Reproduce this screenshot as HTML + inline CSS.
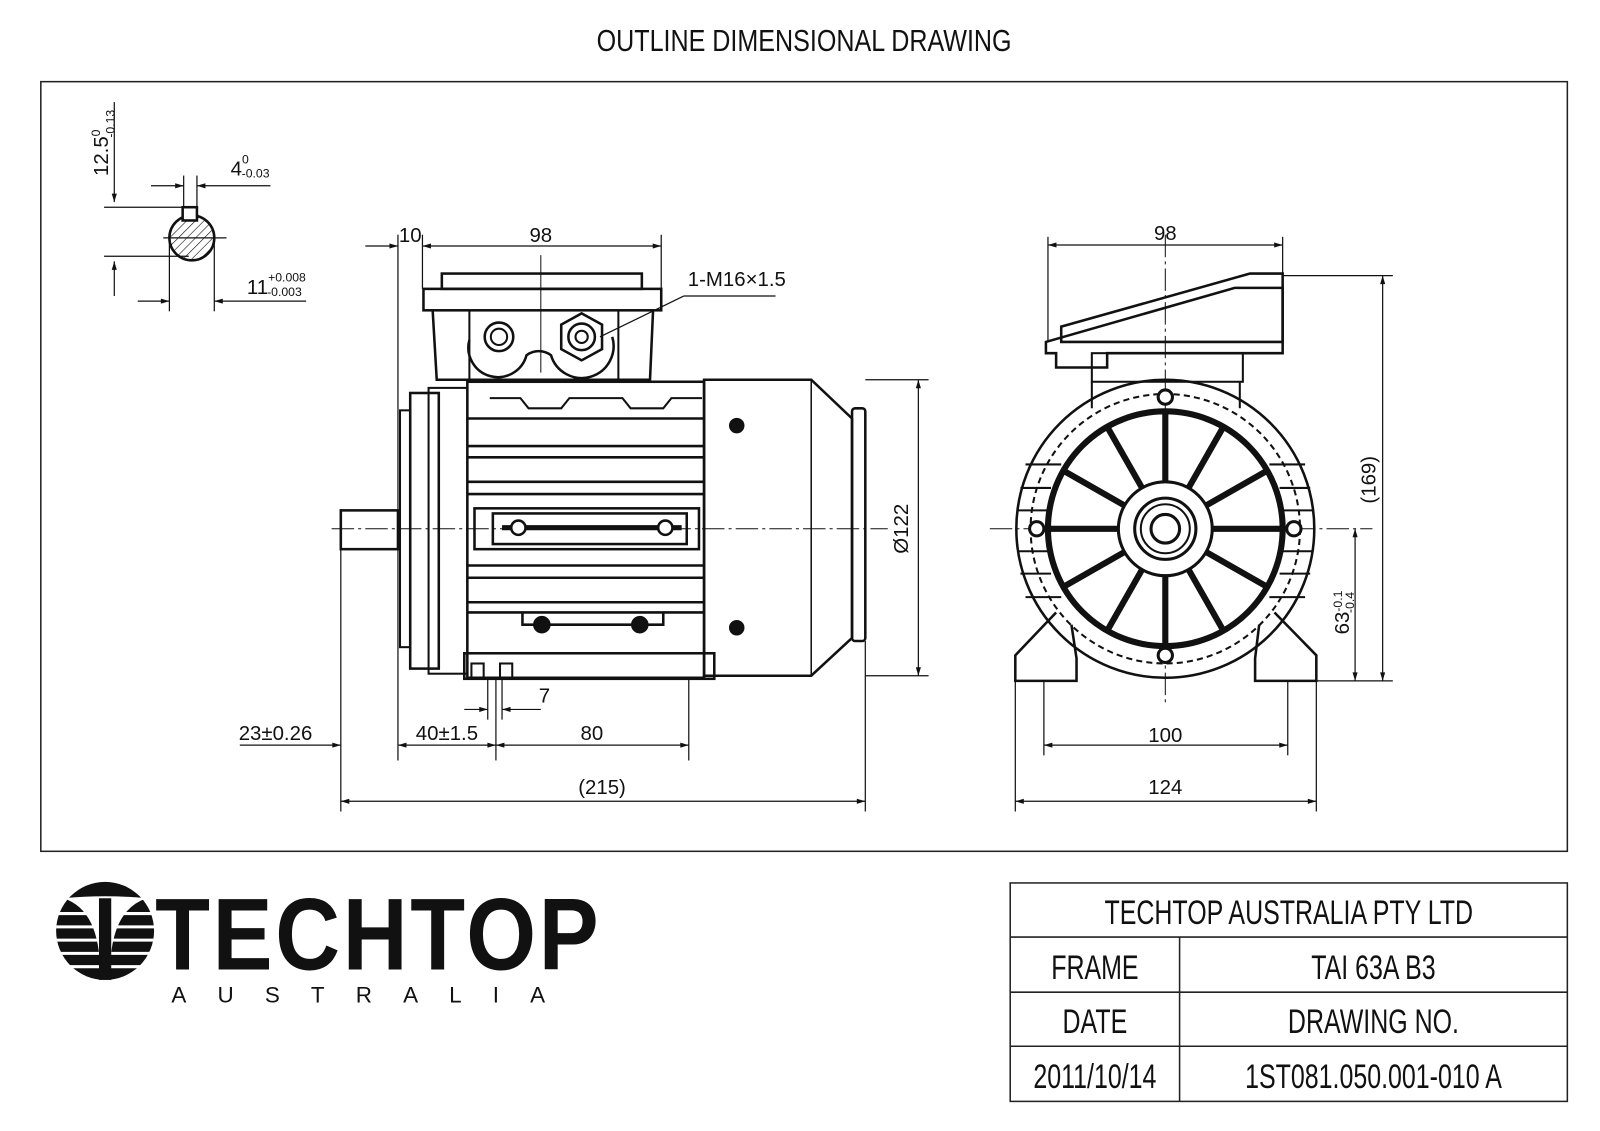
<!DOCTYPE html>
<html><head><meta charset="utf-8"><style>
html,body{margin:0;padding:0;background:#fff;}
svg{display:block;}
text{font-family:"Liberation Sans Narrow","Liberation Sans",sans-serif;fill:#111;}
</style></head><body>
<svg width="1600" height="1131" viewBox="0 0 1568 1108" preserveAspectRatio="none" xmlns="http://www.w3.org/2000/svg">
<defs>
<marker id="a" viewBox="0 0 10 6" refX="10" refY="3" markerWidth="14" markerHeight="5" orient="auto-start-reverse" markerUnits="userSpaceOnUse"><path d="M0,0 L10,3 L0,6z" fill="#111"/></marker>
<pattern id="h" width="6" height="6" patternUnits="userSpaceOnUse" patternTransform="rotate(45)"><line x1="0" y1="0" x2="0" y2="6" stroke="#111" stroke-width="1.2"/></pattern>
</defs>
<rect width="1568" height="1108" fill="#fff"/>
<text x="788" y="50" font-size="30" text-anchor="middle" transform="translate(788 0) scale(0.82 1) translate(-788 0)">OUTLINE DIMENSIONAL DRAWING</text>
<rect x="40" y="80" width="1496" height="754" fill="none" stroke="#222" stroke-width="1.5"/>

<g stroke="#111" fill="none" stroke-width="1.2">
<!-- keyway detail -->
<circle cx="188" cy="233" r="22" fill="url(#h)" stroke-width="2.5"/>
<rect x="179" y="203" width="14" height="13" fill="#fff" stroke-width="2.5"/>
<line x1="102" y1="203" x2="182" y2="203"/><line x1="102" y1="251" x2="185" y2="251"/>
<line x1="112" y1="100" x2="112" y2="198" marker-end="url(#a)"/><line x1="112" y1="256" x2="112" y2="290" marker-start="url(#a)"/>
<line x1="180" y1="172" x2="180" y2="203"/><line x1="193" y1="172" x2="193" y2="203"/>
<line x1="148" y1="182" x2="180" y2="182" marker-end="url(#a)"/><line x1="193" y1="182" x2="265" y2="182" marker-start="url(#a)"/>
<line x1="166" y1="233" x2="166" y2="305"/><line x1="210" y1="233" x2="210" y2="305"/>
<line x1="135" y1="295" x2="166" y2="295" marker-end="url(#a)"/><line x1="210" y1="295" x2="300" y2="295" marker-start="url(#a)"/>
<line x1="160" y1="233" x2="222" y2="233"/>

<!-- LEFT VIEW -->
<line x1="325" y1="518" x2="870" y2="518" stroke-dasharray="22,4,3,4" stroke-width="1"/>
<rect x="334" y="500" width="56" height="38" stroke-width="2.5"/>
<rect x="392" y="402" width="10" height="232" stroke-width="2"/>
<rect x="402" y="385" width="28" height="270" stroke-width="2.5"/>
<rect x="420" y="380" width="38" height="280" stroke-width="2"/>
<rect x="458" y="374" width="232" height="290" stroke-width="2.5"/>
<g stroke-width="2.5">
<line x1="458" y1="410" x2="690" y2="410"/><line x1="458" y1="437" x2="690" y2="437"/>
<line x1="458" y1="448" x2="690" y2="448"/><line x1="458" y1="472" x2="690" y2="472"/>
<line x1="458" y1="484" x2="690" y2="484"/><line x1="458" y1="554" x2="690" y2="554"/>
<line x1="458" y1="566" x2="690" y2="566"/><line x1="458" y1="590" x2="690" y2="590"/>
<line x1="458" y1="600" x2="690" y2="600"/>
</g>
<path d="M480 390 H510 L518 400 H550 L558 390 H610 L618 400 H650 L658 390 H688" stroke-width="2"/>
<rect x="465" y="498" width="220" height="40" stroke-width="2.5"/>
<rect x="483" y="503" width="190" height="30" stroke-width="2.5"/>
<line x1="492" y1="517" x2="668" y2="517" stroke-width="5"/>
<circle cx="508" cy="517" r="7" stroke-width="2.5" fill="#fff"/><circle cx="652" cy="517" r="7" stroke-width="2.5" fill="#fff"/>
<path d="M512 600 V612 H650 V600" stroke-width="2.5"/>
<circle cx="531" cy="612" r="8" fill="#111"/><circle cx="627" cy="612" r="8" fill="#111"/>
<rect x="455" y="640" width="245" height="25" stroke-width="2.5"/>
<rect x="462" y="650" width="12" height="15" stroke-width="2"/><rect x="490" y="650" width="12" height="15" stroke-width="2"/>
<path d="M690 372 H795 L835 410 V625 L795 662 H690Z" stroke-width="2.5"/>
<line x1="795" y1="372" x2="795" y2="662" stroke-width="1.5"/>
<rect x="835" y="400" width="13" height="228" rx="3" stroke-width="2.5"/>
<circle cx="722" cy="417" r="7" fill="#111"/><circle cx="722" cy="615" r="7" fill="#111"/>
<!-- terminal box -->
<rect x="433" y="268" width="196" height="15" stroke-width="2.5"/>
<rect x="415" y="283" width="233" height="21" stroke-width="2.5"/>
<path d="M424 304 L428 372 H637 L640 304" stroke-width="2.5"/>
<path d="M460 304 V372 M606 304 V372" stroke-width="2"/>
<path d="M460 333 A28 28 0 0 0 516 348 A20 20 0 0 1 540 348 A30 30 0 0 0 600 330" stroke-width="2.5"/>
<circle cx="489" cy="330" r="14" stroke-width="2.5"/><circle cx="489" cy="330" r="8" stroke-width="2"/>
<path d="M570 307 L590 318 L590 342 L570 353 L550 342 L550 318Z" stroke-width="2.5"/>
<circle cx="570" cy="330" r="13" stroke-width="2.5"/><circle cx="570" cy="330" r="6" stroke-width="2"/>
<line x1="530" y1="250" x2="530" y2="365" stroke-width="1"/>
<line x1="588" y1="330" x2="670" y2="290"/><line x1="670" y1="290" x2="760" y2="290"/>
<!-- left dims -->
<line x1="390" y1="230" x2="390" y2="745"/><line x1="414" y1="230" x2="414" y2="283"/><line x1="648" y1="230" x2="648" y2="283"/>
<line x1="358" y1="241" x2="390" y2="241" marker-end="url(#a)"/>
<line x1="414" y1="241" x2="648" y2="241" marker-start="url(#a)" marker-end="url(#a)"/>
<line x1="848" y1="372" x2="910" y2="372"/><line x1="848" y1="662" x2="910" y2="662"/>
<line x1="900" y1="372" x2="900" y2="662" marker-start="url(#a)" marker-end="url(#a)"/>
<line x1="334" y1="538" x2="334" y2="795"/><line x1="848" y1="628" x2="848" y2="795"/>
<line x1="486" y1="665" x2="486" y2="745"/><line x1="675" y1="665" x2="675" y2="745"/>
<line x1="478" y1="665" x2="478" y2="705"/><line x1="492" y1="665" x2="492" y2="705"/>
<line x1="455" y1="695" x2="478" y2="695" marker-end="url(#a)"/><line x1="492" y1="695" x2="530" y2="695" marker-start="url(#a)"/>
<line x1="235" y1="730" x2="334" y2="730" marker-end="url(#a)"/>
<line x1="390" y1="730" x2="486" y2="730" marker-start="url(#a)" marker-end="url(#a)"/>
<line x1="486" y1="730" x2="675" y2="730" marker-start="url(#a)" marker-end="url(#a)"/>
<line x1="334" y1="785" x2="848" y2="785" marker-start="url(#a)" marker-end="url(#a)"/>

<!-- RIGHT VIEW -->
<line x1="970" y1="518" x2="1345" y2="518" stroke-dasharray="22,4,3,4" stroke-width="1"/>
<line x1="1142" y1="230" x2="1142" y2="690" stroke-dasharray="22,4,3,4" stroke-width="1"/>
<path d="M1040 320 L1225 268 H1257 V335 H1040Z" stroke-width="2.5"/>
<path d="M1025 335 L1210 282 H1257 V346 L1085 346 V360 H1035 V346 H1025Z" stroke-width="2.5"/>
<rect x="1070" y="346" width="148" height="28" stroke-width="2"/>
<circle cx="1142" cy="518" r="146" stroke-width="2.5"/>
<circle cx="1142" cy="518" r="132" stroke-width="2" stroke-dasharray="6,4"/>
<g stroke-width="2">
<line x1="1005" y1="455" x2="1040" y2="455"/><line x1="1000" y1="478" x2="1030" y2="478"/><line x1="998" y1="500" x2="1028" y2="500"/>
<line x1="998" y1="540" x2="1028" y2="540"/><line x1="1000" y1="562" x2="1030" y2="562"/><line x1="1005" y1="585" x2="1040" y2="585"/>
<line x1="1244" y1="455" x2="1279" y2="455"/><line x1="1254" y1="478" x2="1284" y2="478"/><line x1="1256" y1="500" x2="1286" y2="500"/>
<line x1="1256" y1="540" x2="1286" y2="540"/><line x1="1254" y1="562" x2="1284" y2="562"/><line x1="1244" y1="585" x2="1279" y2="585"/>
<path d="M1070 374 V400 M1215 374 V400"/>
</g>
<circle cx="1142" cy="518" r="115" stroke-width="6"/>
<g stroke-width="6">
<line x1="1142" y1="403" x2="1142" y2="633"/><line x1="1027" y1="518" x2="1257" y2="518"/>
<line x1="1085" y1="418" x2="1199" y2="618"/><line x1="1199" y1="418" x2="1085" y2="618"/>
<line x1="1042" y1="461" x2="1242" y2="575"/><line x1="1242" y1="461" x2="1042" y2="575"/>
</g>
<circle cx="1142" cy="518" r="46" fill="#fff" stroke-width="3"/>
<circle cx="1142" cy="518" r="30" stroke-width="3"/><circle cx="1142" cy="518" r="24" stroke-width="2"/>
<circle cx="1142" cy="518" r="14" stroke-width="3"/>
<g stroke-width="3" fill="#fff"><circle cx="1142" cy="389" r="7"/><circle cx="1142" cy="642" r="7"/><circle cx="1016" cy="518" r="7"/><circle cx="1268" cy="518" r="7"/></g>
<path d="M1035 600 L995 642 V667 H1055 V645 L1050 612" stroke-width="2.5"/>
<path d="M1249 600 L1290 642 V667 H1230 V645 L1234 612" stroke-width="2.5"/>
<!-- right dims -->
<line x1="1027" y1="232" x2="1027" y2="335"/><line x1="1257" y1="232" x2="1257" y2="268"/>
<line x1="1027" y1="240" x2="1257" y2="240" marker-start="url(#a)" marker-end="url(#a)"/>
<line x1="1257" y1="270" x2="1365" y2="270"/><line x1="1290" y1="667" x2="1365" y2="667"/>
<line x1="1355" y1="270" x2="1355" y2="667" marker-start="url(#a)" marker-end="url(#a)"/>
<line x1="1328" y1="518" x2="1328" y2="667" marker-start="url(#a)" marker-end="url(#a)"/>
<line x1="1023" y1="667" x2="1023" y2="740"/><line x1="1262" y1="667" x2="1262" y2="740"/>
<line x1="995" y1="667" x2="995" y2="795"/><line x1="1290" y1="667" x2="1290" y2="795"/>
<line x1="1023" y1="730" x2="1262" y2="730" marker-start="url(#a)" marker-end="url(#a)"/>
<line x1="995" y1="785" x2="1290" y2="785" marker-start="url(#a)" marker-end="url(#a)"/>
</g>

<g font-size="20">
<text x="402" y="237" text-anchor="middle">10</text>
<text x="530" y="237" text-anchor="middle">98</text>
<text x="674" y="280">1-M16×1.5</text>
<text x="528" y="688">7</text>
<text x="270" y="725" text-anchor="middle">23±0.26</text>
<text x="438" y="725" text-anchor="middle">40±1.5</text>
<text x="580" y="725" text-anchor="middle">80</text>
<text x="590" y="778" text-anchor="middle">(215)</text>
<text x="1142" y="235" text-anchor="middle">98</text>
<text x="1142" y="727" text-anchor="middle">100</text>
<text x="1142" y="778" text-anchor="middle">124</text>
<text transform="translate(890 518) rotate(-90)" text-anchor="middle">Ø122</text>
<text transform="translate(1348 470) rotate(-90)" text-anchor="middle">(169)</text>
<text transform="translate(1322 600) rotate(-90)" text-anchor="middle">63<tspan font-size="12" dy="-7">-0.1</tspan><tspan font-size="12" dx="-22" dy="12">-0.4</tspan></text>
<text transform="translate(106 140) rotate(-90)" text-anchor="middle">12.5<tspan font-size="12" dy="-8">0</tspan><tspan font-size="12" dx="-8" dy="14">-0.13</tspan></text>
<text x="226" y="172">4<tspan font-size="12" dy="-12">0</tspan><tspan font-size="12" dx="-7" dy="14">-0.03</tspan></text>
<text x="242" y="288">11<tspan font-size="12" dy="-12">+0.008</tspan><tspan font-size="12" dx="-38" dy="14">-0.003</tspan></text>
</g>

<!-- logo -->
<circle cx="103" cy="912" r="48" fill="#111"/>
<g stroke="#fff" stroke-width="3">
<line x1="55" y1="895" x2="151" y2="895"/><line x1="55" y1="908" x2="151" y2="908"/><line x1="55" y1="921" x2="151" y2="921"/><line x1="55" y1="934" x2="151" y2="934"/><line x1="55" y1="947" x2="151" y2="947"/>
</g>
<path d="M62 880 Q100 892 98 960 H108 Q106 892 144 880 Q103 876 62 880Z" fill="#fff"/>
<rect x="97" y="880" width="12" height="80" fill="#111"/>
<text x="152" y="950" font-size="100" font-weight="bold" transform="translate(152 0) scale(0.88 1) translate(-152 0)" letter-spacing="3" style="font-family:'Liberation Sans',sans-serif">TECHTOP</text>
<text x="168" y="982" font-size="22" letter-spacing="30.5" style="font-family:'Liberation Sans',sans-serif">AUSTRALIA</text>

<!-- title block -->
<g stroke="#222" stroke-width="1.5" fill="none">
<rect x="990" y="865" width="546" height="214"/>
<line x1="990" y1="918" x2="1536" y2="918"/><line x1="990" y1="972" x2="1536" y2="972"/><line x1="990" y1="1025" x2="1536" y2="1025"/>
<line x1="1156" y1="918" x2="1156" y2="1079"/>
</g>
<g font-size="34" text-anchor="middle">
<text x="1263" y="905" transform="translate(1263 0) scale(0.72 1) translate(-1263 0)">TECHTOP AUSTRALIA PTY LTD</text>
<text x="1073" y="959" transform="translate(1073 0) scale(0.72 1) translate(-1073 0)">FRAME</text>
<text x="1346" y="959" transform="translate(1346 0) scale(0.72 1) translate(-1346 0)">TAI 63A B3</text>
<text x="1073" y="1012" transform="translate(1073 0) scale(0.72 1) translate(-1073 0)">DATE</text>
<text x="1346" y="1012" transform="translate(1346 0) scale(0.72 1) translate(-1346 0)">DRAWING NO.</text>
<text x="1073" y="1066" transform="translate(1073 0) scale(0.72 1) translate(-1073 0)">2011/10/14</text>
<text x="1346" y="1066" transform="translate(1346 0) scale(0.72 1) translate(-1346 0)">1ST081.050.001-010 A</text>
</g>
</svg>
</body></html>
